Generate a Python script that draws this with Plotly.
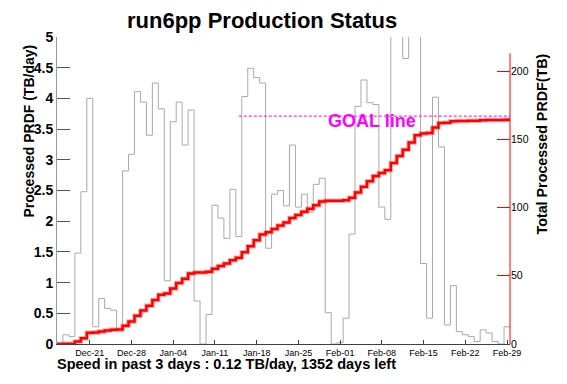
import numpy as np
import pandas as pd
import plotly.graph_objects as go

# ---- data ----
day_first = "2007-12-16"
day_last = "2008-02-29"
daily_tb = [0, 0.15, 0.12, 1.48, 2.48, 4.0, 0.28, 0.74, 0.58, 0.55,
            0.24, 2.82, 3.09, 4.11, 3.94, 3.40, 4.25, 3.83, 1.03, 3.62,
            3.94, 3.24, 3.81, 0.70, 0, 0.48, 2.26, 2.05, 1.72, 2.52,
            1.75, 4.03, 4.49, 4.34, 4.25, 1.56, 2.44, 2.50, 2.25, 3.24,
            2.23, 2.44, 2.15, 2.60, 2.70, 0.51, 0, 0.02, 0.42, 1.79,
            3.87, 4.30, 3.93, 3.90, 2.23, 2.03, 5.3, 5.1, 4.65, 5.2,
            5.3, 1.31, 0.42, 4.02, 3.21, 0.31, 0.95, 0.20, 0.15, 0.12,
            0.04, 0.23, 0.18, 0.04, 0, 0.28]
goal_tb = 167
goal_start = "2008-01-15"
right_ticks = [0, 50, 100, 150, 200]
right_axis_top = 213
title_text = "run6pp Production Status"
speed_text = "Speed in past 3 days : 0.12 TB/day, 1352 days left"
left_title = "Processed PRDF (TB/day)"
right_title = "Total Processed PRDF(TB)"
goal_label = "GOAL line"

# ---- derived ----
centers = pd.date_range(day_first, day_last, freq="D")
half = pd.Timedelta(hours=12)
edges = list(centers - half) + [centers[-1] + half]
cum_tb = np.cumsum(daily_tb)  # total processed = running sum of daily amounts

W, H = 567, 384
L, R, T, B = 57, 57, 37, 40
PW, PH = W - L - R, H - T - B


def px(x):
    return (x - L) / PW


def py(y):
    return (H - B - y) / PH


FONT = "Liberation Sans, Arial, Helvetica, sans-serif"

fig = go.Figure()

fig.add_trace(go.Scatter(
    x=edges, y=list(daily_tb) + [daily_tb[-1]], mode="lines",
    line=dict(shape="hv", color="#a9a9a9", width=1), hoverinfo="skip",
    showlegend=False))

fig.add_trace(go.Scatter(
    x=edges, y=list(cum_tb) + [cum_tb[-1]], mode="lines", yaxis="y2",
    line=dict(shape="hv", color="rgba(255,80,80,0.45)", width=4.5),
    hoverinfo="skip", showlegend=False))
fig.add_trace(go.Scatter(
    x=edges, y=list(cum_tb) + [cum_tb[-1]], mode="lines", yaxis="y2",
    line=dict(shape="hv", color="#ff0000", width=2.5),
    hoverinfo="skip", showlegend=False))

fig.add_trace(go.Scatter(
    x=[pd.Timestamp(goal_start), edges[-1]], y=[goal_tb, goal_tb],
    mode="lines", yaxis="y2",
    line=dict(color="#ff00ff", width=1, dash="3px,2px"),
    hoverinfo="skip", showlegend=False))

fig.update_layout(
    width=W, height=H,
    margin=dict(l=L, r=R, t=T, b=B, pad=0),
    paper_bgcolor="white", plot_bgcolor="white",
    font=dict(family=FONT, color="black"),
    xaxis=dict(
        type="date", range=[edges[0], edges[-1]],
        tick0="2007-12-21", dtick=7 * 86400000, tickformat="%b-%d",
        ticks="inside", ticklen=4, tickcolor="#404040",
        showline=True, linecolor="#404040", linewidth=1,
        showgrid=False, zeroline=False,
        tickfont=dict(size=9, family=FONT, color="black")),
    yaxis=dict(
        range=[0, 5], dtick=0.5, tick0=0,
        ticks="inside", ticklen=13, tickcolor="#555555",
        showline=True, linecolor="#999999", linewidth=1,
        showgrid=False, zeroline=False,
        tickfont=dict(size=14, family=FONT, color="black", weight="bold")),
    yaxis2=dict(
        overlaying="y", side="right", range=[0, 225],
        tickvals=right_ticks, ticks="inside", ticklen=13,
        tickcolor="#ff0000", showline=False,
        showgrid=False, zeroline=False,
        tickfont=dict(size=10.5, family=FONT, color="black")),
    shapes=[dict(type="line", xref="paper", yref="y2", x0=1, x1=1,
                 y0=0, y1=right_axis_top,
                 line=dict(color="#ff0000", width=1))],
    annotations=[
        dict(text=title_text, xref="paper", yref="paper",
             x=px(261.5), y=py(21), xanchor="center", yanchor="middle",
             showarrow=False,
             font=dict(size=22, family=FONT, color="black", weight="bold")),
        dict(text=speed_text, xref="paper", yref="paper",
             x=px(56), y=py(364), xanchor="left", yanchor="middle",
             showarrow=False, borderpad=0,
             font=dict(size=14.5, family=FONT, color="black", weight="bold")),
        dict(text=left_title, xref="paper", yref="paper",
             x=px(28), y=py(131.5), xanchor="center", yanchor="middle",
             textangle=-90, showarrow=False,
             font=dict(size=14, family=FONT, color="black", weight="bold")),
        dict(text=right_title, xref="paper", yref="paper",
             x=px(541.5), y=py(144), xanchor="center", yanchor="middle",
             textangle=-90, showarrow=False,
             font=dict(size=14.3, family=FONT, color="black", weight="bold")),
        dict(text=goal_label, xref="paper", yref="paper",
             x=px(371.7), y=py(121), xanchor="center", yanchor="middle",
             showarrow=False,
             font=dict(size=18, family=FONT, color="#ff00ff", weight="bold")),
    ],
)

fig.write_html(
    "out.html",
    config={"displayModeBar": False},
    post_script="document.body.style.margin='0';document.body.style.padding='0';",
)
